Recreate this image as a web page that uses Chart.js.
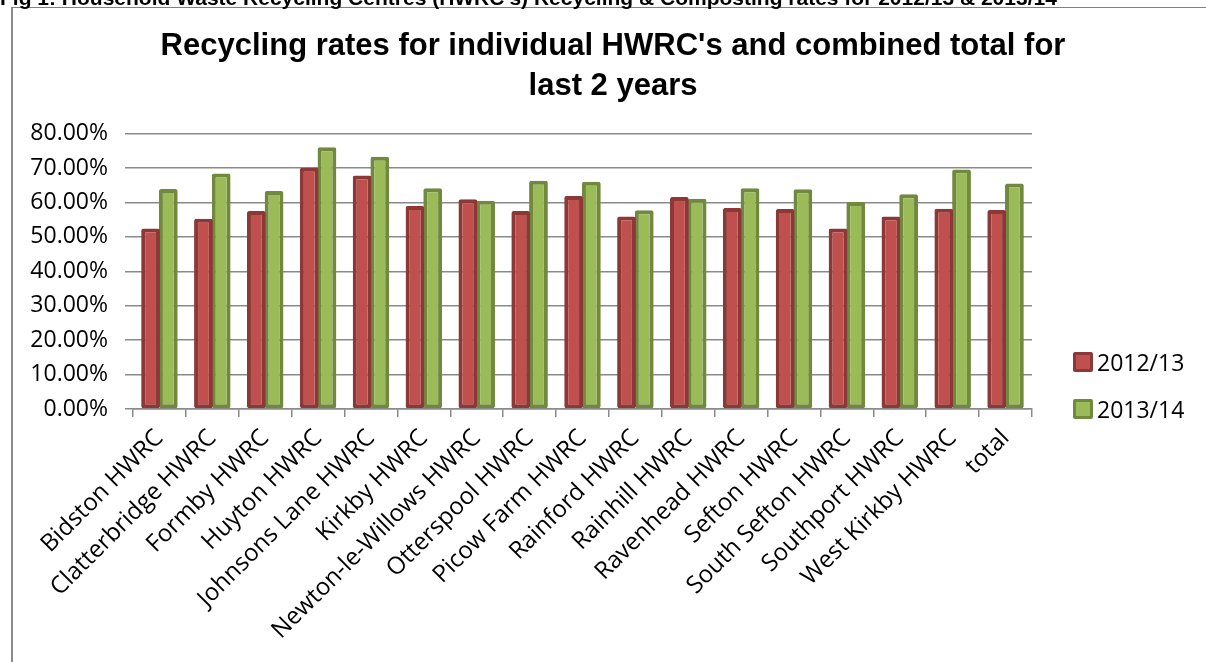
<!DOCTYPE html>
<html>
<head>
<meta charset="utf-8">
<script src="https://cdn.jsdelivr.net/npm/chart.js@4.4.1/dist/chart.umd.min.js"></script>
<style>
  html, body { margin: 0; padding: 0; background: #fff; overflow: hidden; width: 1206px; height: 662px; }
  #frame { position: absolute; left: 11px; top: 7px; width: 1200px; height: 680px;
           border-top: 1px solid #808080; border-left: 2px solid #8c8c8c; }
  #caption { position: absolute; left: 0; top: -13px; white-space: nowrap; color: #000;
             font: bold 21px "Liberation Sans", Arial, sans-serif; line-height: 21px; }
  .leg { position: absolute; left: 1073px; display: flex; align-items: center;
         font: 23px "Open Sans", sans-serif; line-height: 30px; color: #000; }
  .leg .sw { width: 14px; height: 14px; border: 3px solid; margin-right: 4px; border-radius: 2px; }
</style>
</head>
<body>
<div id="frame"><canvas id="chart" width="1200" height="680"></canvas></div>
<div id="caption">Fig 1: Household Waste Recycling Centres (HWRC's) Recycling &amp; Composting rates for 2012/13 &amp; 2013/14</div>
<div class="leg" style="top:347px"><span class="sw" style="background:#c0504d;border-color:#8c3836"></span>2012/13</div>
<div class="leg" style="top:394px"><span class="sw" style="background:#9bbb59;border-color:#71893f"></span>2013/14</div>
<script>
const CATEGORIES = ["Bidston HWRC", "Clatterbridge HWRC", "Formby HWRC", "Huyton HWRC", "Johnsons Lane HWRC",
  "Kirkby HWRC", "Newton-le-Willows HWRC", "Otterspool HWRC", "Picow Farm HWRC", "Rainford HWRC",
  "Rainhill HWRC", "Ravenhead HWRC", "Sefton HWRC", "South Sefton HWRC", "Southport HWRC",
  "West Kirkby HWRC", "total"];
const RATES_1213 = [52.4, 55.3, 57.5, 70.1, 67.8, 59.0, 60.9, 57.5, 61.9, 55.9, 61.6, 58.4, 58.1, 52.4, 55.9, 58.2, 57.8];
const RATES_1314 = [63.9, 68.4, 63.3, 76.0, 73.3, 64.1, 60.5, 66.3, 66.0, 57.7, 61.1, 64.1, 63.8, 60.1, 62.4, 69.6, 65.5];
const TITLE = ["Recycling rates for individual HWRC's and combined total for", "last 2 years"];
const Y_MAX = 80, Y_STEP = 10;

const GRID = "#8a8a8a";

new Chart(document.getElementById("chart"), {
  type: "bar",
  data: {
    labels: CATEGORIES,
    datasets: [
      { label: "2012/13", data: RATES_1213, backgroundColor: "#c0504d", borderColor: "#8c3836",
        borderWidth: 4, borderSkipped: false, borderRadius: 2 },
      { label: "2013/14", data: RATES_1314, backgroundColor: "#9bbb59", borderColor: "#71893f",
        borderWidth: 4, borderSkipped: false, borderRadius: 2 }
    ]
  },
  options: {
    responsive: false,
    animation: false,
    devicePixelRatio: 1,
    categoryPercentage: 0.67,
    barPercentage: 1.06,
    layout: { padding: 0 },
    plugins: {
      legend: { display: false },
      tooltip: { enabled: false },
      title: {
        display: true,
        text: TITLE,
        color: "#000",
        font: { family: "'Liberation Sans', Arial, sans-serif", size: 31, weight: "bold", lineHeight: 1.3 },
        padding: { top: 18, bottom: 27 }
      }
    },
    scales: {
      x: {
        offset: true,
        grid: { display: true, drawOnChartArea: false, drawTicks: true, tickLength: 8, color: GRID, lineWidth: 1.5, offset: true },
        border: { display: true, color: GRID, width: 1.5 },
        ticks: { color: "#000", font: { family: "'Open Sans', sans-serif", size: 24 },
                 maxRotation: 45, minRotation: 45, autoSkip: false, padding: 7 },
        afterFit: (s) => { s.height = 279; }
      },
      y: {
        min: 0,
        max: Y_MAX,
        grid: { color: GRID, lineWidth: 1.5, tickLength: 8 },
        border: { display: false },
        ticks: { stepSize: Y_STEP, color: "#000", font: { family: "'Open Sans', sans-serif", size: 23 }, padding: 17,
                 callback: (v) => v.toFixed(2) + "%" },
        afterFit: (s) => { s.width = 120; }
      },
      // empty space on the right where the legend sits
      pad: {
        position: "right",
        grid: { display: false },
        border: { display: false },
        ticks: { display: false },
        afterFit: (s) => { s.width = 181; }
      }
    }
  }
});
</script>
</body>
</html>
